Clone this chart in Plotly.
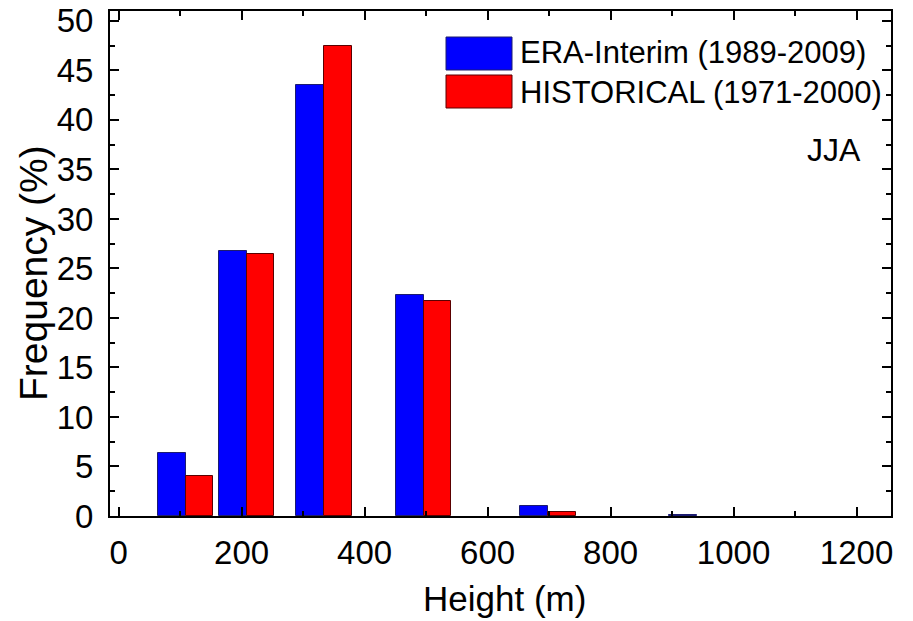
import plotly.graph_objects as go

# Data
group_centers = [109, 208, 334, 496, 698, 940]       # Height bin centres (m)
era_interim = [6.4, 26.8, 43.5, 22.3, 1.05, 0.15]     # ERA-Interim (1989-2009), %
historical = [4.0, 26.5, 47.5, 21.7, 0.37, None]      # HISTORICAL (1971-2000), %
series_names = ["ERA-Interim (1989-2009)", "HISTORICAL (1971-2000)"]
x_ticks = [0, 200, 400, 600, 800, 1000, 1200]
y_ticks = [0, 5, 10, 15, 20, 25, 30, 35, 40, 45, 50]
season = "JJA"
x_title = "Height (m)"
y_title = "Frequency (%)"

BAR_W = 45
FONT = "Liberation Sans, Arial, sans-serif"

fig = go.Figure()
fig.add_trace(go.Bar(
    x=group_centers, y=era_interim, name=series_names[0],
    width=BAR_W, offset=-BAR_W,
    marker=dict(color="#0000FF", line=dict(color="#1c1c70", width=1)),
    showlegend=False,
))
fig.add_trace(go.Bar(
    x=group_centers, y=historical, name=series_names[1],
    width=BAR_W, offset=0,
    marker=dict(color="#FF0000", line=dict(color="#5a0000", width=1)),
    showlegend=False,
))

axis_common = dict(
    showline=True, linecolor="black", linewidth=2, mirror="ticks",
    ticks="inside", ticklen=9, tickwidth=2, tickcolor="black",
    showgrid=False, zeroline=False, automargin=False,
    tickfont=dict(family=FONT, size=33, color="black"),
)

fig.update_xaxes(
    range=[-14, 1256], tickvals=x_ticks, ticktext=[str(v) for v in x_ticks],
    minor=dict(dtick=100, tick0=0, ticks="inside", ticklen=5, tickwidth=2, tickcolor="black"),
    ticklabelstandoff=6,
    **axis_common,
)
fig.update_yaxes(
    range=[0, 51], tickvals=y_ticks, ticktext=[str(v) for v in y_ticks],
    minor=dict(dtick=2.5, tick0=0, ticks="inside", ticklen=5, tickwidth=2, tickcolor="black"),
    ticklabelstandoff=8,
    **axis_common,
)

# Layout helpers (pixel -> paper)
L, R, T, B = 110, 891, 11, 516
def px(xp):
    return (xp - L) / (R - L)
def py(yp):
    return (B - yp) / (B - T)

shapes = []
annotations = []

# Axis titles
annotations.append(dict(xref="paper", yref="paper", x=px(505), y=py(598),
                        xanchor="center", yanchor="middle", showarrow=False,
                        text=x_title, font=dict(family=FONT, size=35, color="black")))
annotations.append(dict(xref="paper", yref="paper", x=px(33), y=py(273),
                        xanchor="center", yanchor="middle", showarrow=False, textangle=-90,
                        text=y_title, font=dict(family=FONT, size=39, color="black")))

# Custom legend (large swatches as in the reference)
swatches = [("#0000FF", "#1c1c70", 37, 70, 53), ("#FF0000", "#5a0000", 75, 108, 92)]
for (fill, edge, y0, y1, yc), name in zip(swatches, series_names):
    shapes.append(dict(type="rect", xref="paper", yref="paper",
                       x0=px(446), x1=px(512), y0=py(y1), y1=py(y0),
                       fillcolor=fill, line=dict(color=edge, width=1)))
    annotations.append(dict(xref="paper", yref="paper", x=px(518), y=py(yc),
                            xanchor="left", yanchor="middle", showarrow=False,
                            text=name, font=dict(family=FONT, size=31, color="black")))
annotations.append(dict(xref="paper", yref="paper", x=px(863), y=py(150),
                        xanchor="right", yanchor="middle", showarrow=False,
                        text=season, font=dict(family=FONT, size=32, color="black")))

fig.update_layout(
    width=913, height=621,
    margin=dict(l=L, r=913 - R, t=T, b=621 - B),
    paper_bgcolor="white", plot_bgcolor="white",
    barmode="overlay", bargap=0,
    shapes=shapes, annotations=annotations,
    font=dict(family=FONT, color="black"),
)

fig.write_html("out.html")
